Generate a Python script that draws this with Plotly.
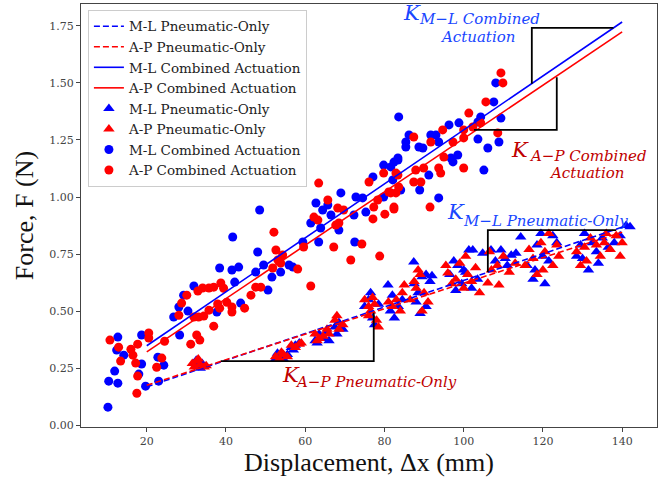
import plotly.graph_objects as go

# ---------------- data ----------------
# M-L Combined Actuation (blue circles)
ml_comb_x = [10.2, 10.4, 12.7, 11.9, 12.4, 14.2, 12.7, 18.7, 18.7, 18.0, 19.7, 22.8, 24.3, 23.0,
             28.3, 26.8, 28.1, 30.4, 29.3, 31.9, 37.7, 38.4, 41.5, 43.2, 41.7, 42.2, 43.7, 47.5,
             48.0, 48.5, 49.5, 50.6, 51.6, 53.8, 55.9, 56.9, 59.4, 61.4, 62.7, 63.4, 63.9, 64.4,
             65.7, 66.5, 68.5, 69.0, 72.3, 72.5, 72.8, 74.5, 75.3, 77.1, 79.8, 79.8, 81.6, 82.1,
             82.4, 83.4, 83.4, 83.6, 84.1, 85.4, 85.4, 86.2, 88.7, 88.9, 89.7, 91.2, 91.7, 93.0,
             93.7, 93.7, 96.3, 96.8, 97.3, 98.5, 98.8, 103.6, 103.6, 104.3, 105.1, 106.1, 107.6,
             108.1, 108.9, 109.4]
ml_comb_y = [0.079, 0.193, 0.184, 0.237, 0.329, 0.307, 0.386, 0.395, 0.268, 0.224, 0.171, 0.298, 0.263, 0.193,
             0.395, 0.474, 0.518, 0.500, 0.570, 0.610, 0.496, 0.689, 0.680, 0.693, 0.825, 0.627, 0.535, 0.671,
             0.759, 0.943, 0.702, 0.592, 0.649, 0.671, 0.702, 0.693, 0.803, 0.886, 0.974, 0.803, 0.864, 0.943,
             0.965, 0.921, 0.855, 1.018, 0.921, 0.803, 1.000, 0.996, 0.934, 1.088, 1.000, 1.140, 1.132, 1.075,
             1.153, 1.171, 1.162, 1.351, 1.031, 1.219, 1.241, 1.272, 1.219, 1.031, 1.215, 1.096, 1.272, 1.272,
             1.241, 0.996, 1.316, 1.171, 1.154, 1.184, 1.325, 1.329, 1.254, 1.351, 1.118, 1.215, 1.417,
             1.500, 1.241, 1.346]

# A-P Combined Actuation (red circles)
ap_comb_x = [10.7, 12.9, 13.4, 16.0, 16.5, 17.2, 17.7, 17.5, 17.7, 20.5, 20.5, 22.5, 23.8, 24.5,
             28.1, 28.8, 30.1, 31.1, 32.6, 33.4, 31.9, 33.1, 34.4, 35.7, 32.9, 34.1, 35.7, 36.9,
             38.7, 36.9, 37.9, 38.4, 40.2, 41.5, 41.5, 44.7, 39.4, 46.3, 47.5, 48.8, 51.8, 52.1,
             52.6, 53.1, 53.8, 54.3, 58.1, 59.6, 61.4, 62.2, 63.2, 63.4, 65.7, 67.2, 67.7, 68.2,
             68.5, 69.7, 71.5, 74.3, 76.1, 77.1, 77.3, 78.3, 78.8, 79.8, 80.1, 81.1, 81.6, 82.4,
             82.4, 82.9, 82.9, 83.4, 83.6, 87.4, 87.4, 87.9, 89.2, 89.9, 91.5, 91.7, 93.7, 94.2,
             94.7, 95.0, 97.3, 100.0, 100.0, 100.0, 101.3, 102.3, 104.3, 105.6, 108.6, 109.4, 109.9]
ap_comb_y = [0.373, 0.342, 0.281, 0.333, 0.307, 0.272, 0.215, 0.140, 0.355, 0.404, 0.382, 0.254, 0.294, 0.368,
             0.482, 0.535, 0.570, 0.355, 0.395, 0.373, 0.474, 0.474, 0.478, 0.504, 0.588, 0.601, 0.601, 0.605,
             0.623, 0.434, 0.531, 0.513, 0.539, 0.518, 0.496, 0.513, 0.600, 0.570, 0.605, 0.605, 0.689, 0.846,
             0.768, 0.724, 0.711, 0.746, 0.684, 0.781, 0.610, 0.912, 0.899, 1.061, 0.987, 0.781, 0.877, 0.952,
             0.886, 0.943, 0.724, 0.794, 1.066, 0.904, 0.956, 0.987, 0.741, 1.105, 0.925, 1.022, 1.018, 0.947,
             0.956, 1.018, 1.105, 1.096, 1.044, 1.263, 1.066, 1.118, 1.066, 1.127, 0.956, 1.241, 1.127, 1.105,
             1.294, 1.175, 1.241, 1.294, 1.259, 1.127, 1.368, 1.307, 1.325, 1.417, 1.281, 1.544, 1.500]

# M-L Pneumatic-Only (blue triangles)
ml_pneu_x = [32.0, 33.0, 34.0, 32.5, 33.5, 52.5, 53.5, 54.5, 55.5, 53.0, 56.5, 57.5, 58.5, 57.0,
             62.5, 63.5, 64.5, 65.5, 63.0, 66.0, 67.5, 68.5, 69.5, 68.0, 75.0, 76.0, 77.0, 77.5,
             78.5, 76.5, 80.9, 81.5, 82.5, 83.5, 84.5, 82.0, 87.4, 87.5, 88.5, 89.5, 90.5, 91.5,
             92.0, 89.0, 90.5, 88.0, 96.5, 97.5, 98.5, 99.5, 100.5, 101.3, 102.3, 104.8, 103.5, 102.0,
             98.0, 100.0, 106.9, 109.4, 108.0, 110.5, 112.0, 113.2, 114.4, 111.0, 116.0, 117.5, 118.5,
             119.5, 120.5, 121.5, 122.5, 123.5, 118.0, 120.0, 128.5, 129.5, 130.5, 131.5, 132.5, 133.5,
             135.0, 136.5, 138.0, 139.5, 141.0, 142.0, 130.0, 134.0]
ml_pneu_y = [0.270, 0.260, 0.270, 0.285, 0.250, 0.290, 0.300, 0.290, 0.310, 0.315, 0.340, 0.350, 0.360, 0.330,
             0.370, 0.400, 0.380, 0.410, 0.360, 0.370, 0.430, 0.450, 0.420, 0.400, 0.520, 0.550, 0.470, 0.440,
             0.530, 0.580, 0.614, 0.500, 0.470, 0.520, 0.550, 0.570, 0.715, 0.620, 0.580, 0.650, 0.660, 0.630,
             0.655, 0.490, 0.520, 0.540, 0.660, 0.720, 0.700, 0.620, 0.670, 0.768, 0.768, 0.754, 0.640, 0.600,
             0.590, 0.680, 0.768, 0.768, 0.720, 0.730, 0.745, 0.754, 0.825, 0.700, 0.700, 0.640, 0.790,
             0.840, 0.620, 0.720, 0.830, 0.800, 0.680, 0.740, 0.740, 0.790, 0.840, 0.680, 0.800, 0.760,
             0.820, 0.780, 0.800, 0.830, 0.875, 0.870, 0.730, 0.710]

# A-P Pneumatic-Only (red triangles)
ap_pneu_x = [31.5, 32.5, 33.5, 34.5, 32.0, 33.0, 35.0, 52.5, 53.5, 54.5, 55.5, 54.0, 56.5, 57.5,
             58.5, 59.0, 62.5, 63.5, 64.5, 65.5, 66.0, 63.0, 67.5, 68.5, 69.5, 68.0, 75.0, 76.0,
             76.5, 77.0, 77.5, 78.0, 78.5, 76.0, 81.0, 82.0, 83.0, 84.0, 85.0, 84.5, 86.5, 87.5,
             88.0, 89.0, 90.0, 91.0, 89.5, 88.5, 95.5, 96.0, 97.0, 98.0, 99.0, 100.0, 101.0, 102.0,
             103.0, 104.0, 100.5, 106.1, 107.0, 108.5, 108.9, 110.0, 111.5, 113.0, 106.5, 115.5, 116.5,
             117.5, 118.5, 119.5, 120.5, 121.5, 122.5, 123.5, 124.0, 120.0, 128.5, 129.5, 130.5, 131.0,
             132.0, 133.5, 134.5, 135.5, 137.0, 138.5, 139.5, 140.0, 136.0]
ap_pneu_y = [0.270, 0.280, 0.265, 0.255, 0.255, 0.290, 0.260, 0.300, 0.290, 0.310, 0.300, 0.320, 0.350, 0.340,
             0.355, 0.360, 0.400, 0.380, 0.390, 0.420, 0.400, 0.370, 0.460, 0.420, 0.440, 0.480, 0.550, 0.520,
             0.500, 0.560, 0.530, 0.460, 0.430, 0.480, 0.540, 0.520, 0.550, 0.500, 0.614, 0.580, 0.550, 0.630,
             0.600, 0.660, 0.580, 0.540, 0.500, 0.680, 0.700, 0.667, 0.620, 0.640, 0.710, 0.600, 0.660, 0.630,
             0.690, 0.580, 0.740, 0.623, 0.680, 0.700, 0.614, 0.740, 0.670, 0.710, 0.760, 0.700, 0.770,
             0.730, 0.660, 0.800, 0.760, 0.840, 0.700, 0.790, 0.740, 0.680, 0.760, 0.700, 0.780, 0.720,
             0.820, 0.790, 0.740, 0.800, 0.770, 0.830, 0.740, 0.800, 0.840]

# Linear fits (endpoints)
fit_x = [20, 140]
fit_ml_pneu = [0.168, 0.868]
fit_ap_pneu = [0.175, 0.846]
fit_ml_comb = [0.348, 1.767]
fit_ap_comb = [0.321, 1.724]

# Slope-triangle guide lines
guide_ml_comb_x = [117.2, 117.2, 137.8]
guide_ml_comb_y = [1.497, 1.741, 1.741]
guide_ap_comb_x = [102.6, 123.5, 123.5]
guide_ap_comb_y = [1.294, 1.294, 1.525]
guide_ml_pneu_x = [106.1, 106.1, 138.5]
guide_ml_pneu_y = [0.670, 0.855, 0.855]
guide_ap_pneu_x = [38.7, 77.3, 77.3]
guide_ap_pneu_y = [0.281, 0.281, 0.493]

x_ticks = [20, 40, 60, 80, 100, 120, 140]
y_ticks = [0.00, 0.25, 0.50, 0.75, 1.00, 1.25, 1.50, 1.75]

BLUE = "#0000ff"
RED = "#ff0000"
TXT_BLUE = "rgb(25,70,255)"
TXT_RED = "rgb(192,0,0)"

fig = go.Figure()

# scatter points (drawn first, lines on top)
fig.add_trace(go.Scatter(x=ml_pneu_x, y=ml_pneu_y, mode="markers", name="M-L Pneumatic-Only",
                         marker=dict(symbol="triangle-up", size=10, color=BLUE, line=dict(width=0)),
                         legendrank=5))
fig.add_trace(go.Scatter(x=ap_pneu_x, y=ap_pneu_y, mode="markers", name="A-P Pneumatic-Only",
                         marker=dict(symbol="triangle-up", size=10, color=RED, line=dict(width=0)),
                         legendrank=6))
fig.add_trace(go.Scatter(x=ml_comb_x, y=ml_comb_y, mode="markers", name="M-L Combined Actuation",
                         marker=dict(symbol="circle", size=9, color=BLUE, line=dict(width=0)),
                         legendrank=7))
fig.add_trace(go.Scatter(x=ap_comb_x, y=ap_comb_y, mode="markers", name="A-P Combined Actuation",
                         marker=dict(symbol="circle", size=9, color=RED, line=dict(width=0)),
                         legendrank=8))

# fit lines
fig.add_trace(go.Scatter(x=fit_x, y=fit_ml_pneu, mode="lines", name="M-L Pneumatic-Only",
                         line=dict(color=BLUE, width=1.6, dash="6px,3px"), legendrank=1))
fig.add_trace(go.Scatter(x=fit_x, y=fit_ap_pneu, mode="lines", name="A-P Pneumatic-Only",
                         line=dict(color=RED, width=1.6, dash="6px,3px"), legendrank=2))
fig.add_trace(go.Scatter(x=fit_x, y=fit_ml_comb, mode="lines", name="M-L Combined Actuation",
                         line=dict(color=BLUE, width=1.6), legendrank=3))
fig.add_trace(go.Scatter(x=fit_x, y=fit_ap_comb, mode="lines", name="A-P Combined Actuation",
                         line=dict(color=RED, width=1.6), legendrank=4))

# guide lines
for gx, gy in [(guide_ml_comb_x, guide_ml_comb_y), (guide_ap_comb_x, guide_ap_comb_y),
               (guide_ml_pneu_x, guide_ml_pneu_y), (guide_ap_pneu_x, guide_ap_pneu_y)]:
    fig.add_trace(go.Scatter(x=gx, y=gy, mode="lines", showlegend=False, hoverinfo="skip",
                             line=dict(color="black", width=1.8)))

ANN_FONT = "DejaVu Serif"


def k_label(xk, yk, xs, ys, sub, color):
    fig.add_annotation(x=xk, y=yk, xref="x", yref="y", text="<i>K</i>", showarrow=False,
                       xanchor="left", yanchor="middle",
                       font=dict(family=ANN_FONT, size=21, color=color))
    fig.add_annotation(x=xs, y=ys, xref="x", yref="y", text="<i>" + sub + "</i>", showarrow=False,
                       xanchor="left", yanchor="middle",
                       font=dict(family=ANN_FONT, size=15, color=color))


k_label(84.1, 1.807, 88.3, 1.781, "M\u2212L Combined", TXT_BLUE)
fig.add_annotation(x=93.6, y=1.703, xref="x", yref="y", text="<i>Actuation</i>", showarrow=False,
                   xanchor="left", yanchor="middle", font=dict(family=ANN_FONT, size=15, color=TXT_BLUE))
k_label(111.4, 1.206, 116.0, 1.182, "A\u2212P Combined", TXT_RED)
fig.add_annotation(x=121.0, y=1.106, xref="x", yref="y", text="<i>Actuation</i>", showarrow=False,
                   xanchor="left", yanchor="middle", font=dict(family=ANN_FONT, size=15, color=TXT_RED))
k_label(95.4, 0.934, 99.2, 0.895, "M\u2212L Pneumatic-Only", TXT_BLUE)
k_label(53.7, 0.219, 56.8, 0.189, "A\u2212P Pneumatic-Only", TXT_RED)

axis_common = dict(showline=True, mirror=True, linecolor="#444", linewidth=1.3, ticks="outside",
                   ticklen=4, tickcolor="#444", showgrid=False, zeroline=False, automargin=False,
                   tickfont=dict(family="DejaVu Serif", size=11, color="#444"))

fig.update_xaxes(range=[3.4, 148.8], tickvals=x_ticks, ticktext=[str(v) for v in x_ticks],
                 title=dict(text="Displacement, \u0394x (mm)", standoff=4,
                            font=dict(family="Liberation Serif", size=26, color="#111")),
                 **axis_common)
fig.update_yaxes(range=[-0.008, 1.846], tickvals=y_ticks, ticktext=[f"{v:.2f}" for v in y_ticks],
                 title=dict(text="Force, F (N)", standoff=8,
                            font=dict(family="Liberation Serif", size=26, color="#111")),
                 **axis_common)

fig.update_layout(
    width=665, height=479,
    margin=dict(l=81, r=8, t=4, b=52),
    paper_bgcolor="white", plot_bgcolor="white",
    legend=dict(x=0.012, y=0.986, xanchor="left", yanchor="top", bgcolor="white",
                bordercolor="#ccc", borderwidth=1,
                font=dict(family="DejaVu Serif", size=13.5, color="#222")),
    showlegend=True,
)

fig.write_html("out.html", config={"displayModeBar": False},
               post_script="document.body.style.margin='0';document.body.style.overflow='hidden';")
